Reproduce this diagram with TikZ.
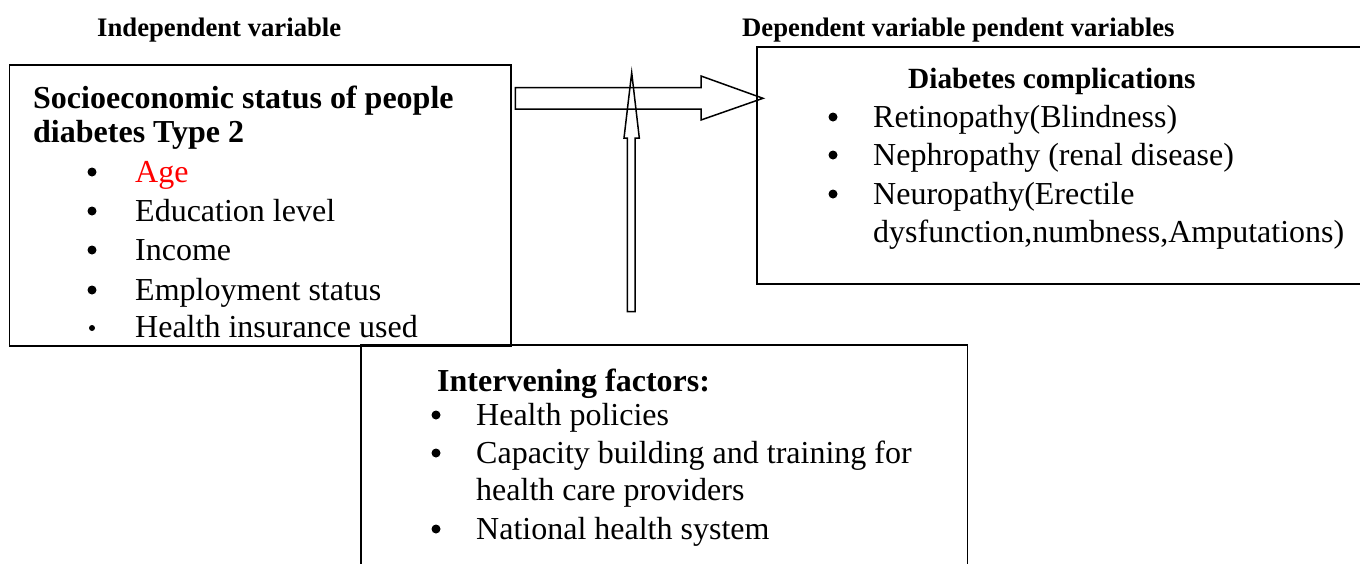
\documentclass[tikz,border=0pt]{standalone}
\usepackage{fontspec}
\setmainfont{Liberation Serif}
\definecolor{agered}{RGB}{255,0,0}
\begin{document}
\begin{tikzpicture}[x=1pt,y=-1pt,
  box/.style={draw=black,line width=1.6pt,rectangle,inner sep=0pt,fill=none},
  blockarrow/.style={draw=black,line width=1.5pt,line join=miter,fill=none},
  head/.style={inner sep=0pt,anchor=base west,font=\fontsize{26.7}{30}\selectfont\bfseries},
  title/.style={inner sep=0pt,anchor=base west,font=\fontsize{32}{39}\selectfont\bfseries},
  item/.style={inner sep=0pt,anchor=base west,font=\fontsize{32}{39}\selectfont},
  dot/.style={circle,fill=black,inner sep=0pt,minimum size=9pt},
  smalldot/.style={circle,fill=black,inner sep=0pt,minimum size=6pt}]
\useasboundingbox (0,0) rectangle (1360,563);
% boxes
\node[box,minimum width=501.2pt,minimum height=281pt] (ind) at (260.1,205.5) {};
\node[box,minimum width=613pt,minimum height=237pt] (dep) at (1063.5,165.5) {};
\node[box,minimum width=606.6pt,minimum height=235pt] (int) at (664,462.5) {};
% headings
\node[head] (hind) at (97,36) {Independent variable};
\node[head] (hdep) at (742,36) {Dependent variable pendent variables};
% left box text
\node[title] (t1) at (33,108) {Socioeconomic status of people};
\node[title] (t2) at (33,142) {diabetes Type 2};
\node[dot] (b1) at (92,172) {};
\node[item,text=agered] (i1) at (135,182) {Age};
\node[dot] (b2) at (92,211) {};
\node[item] (i2) at (135,221) {Education level};
\node[dot] (b3) at (92,250) {};
\node[item] (i3) at (135,260) {Income};
\node[dot] (b4) at (92,290) {};
\node[item] (i4) at (135,300) {Employment status};
\node[smalldot] (b5) at (92,328) {};
\node[item] (i5) at (135,337) {Health insurance used};
% right box text
\node[title,font=\fontsize{29.3}{36}\selectfont\bfseries] (d0) at (908,88) {Diabetes complications};
\node[dot] (c1) at (833,117) {};
\node[item] (d1) at (873,127) {Retinopathy(Blindness)};
\node[dot] (c2) at (833,155) {};
\node[item] (d2) at (873,165) {Nephropathy (renal disease)};
\node[dot] (c3) at (833,194) {};
\node[item] (d3) at (873,204) {Neuropathy(Erectile};
\node[item] (d4) at (873,242) {dysfunction,numbness,Amputations)};
% bottom box text
\node[title] (f0) at (437,391) {Intervening factors:};
\node[dot] (e1) at (436,415) {};
\node[item] (f1) at (476,425) {Health policies};
\node[dot] (e2) at (436,453) {};
\node[item] (f2) at (476,463) {Capacity building and training for};
\node[item] (f3) at (476,500) {health care providers};
\node[dot] (e3) at (436,529) {};
\node[item] (f4) at (476,539) {National health system};
% block arrows
\coordinate (hs) at (515.3,98.3);
\coordinate (ht) at (763,98.3);
\draw[blockarrow] ([yshift=10.6pt]hs) -- (701,87.7) -- (701,76) -- (ht) -- (701,120) -- (701,109) -- ([yshift=-10.7pt]hs) -- cycle;
\coordinate (vs) at (631.2,311.7);
\coordinate (vt) at (631.7,72.7);
\draw[blockarrow] ([xshift=-3.9pt]vs) -- (627.3,138) -- (624,138) -- (vt) -- (639.3,138) -- (635,138) -- ([xshift=3.8pt]vs) -- cycle;
\end{tikzpicture}
\end{document}
